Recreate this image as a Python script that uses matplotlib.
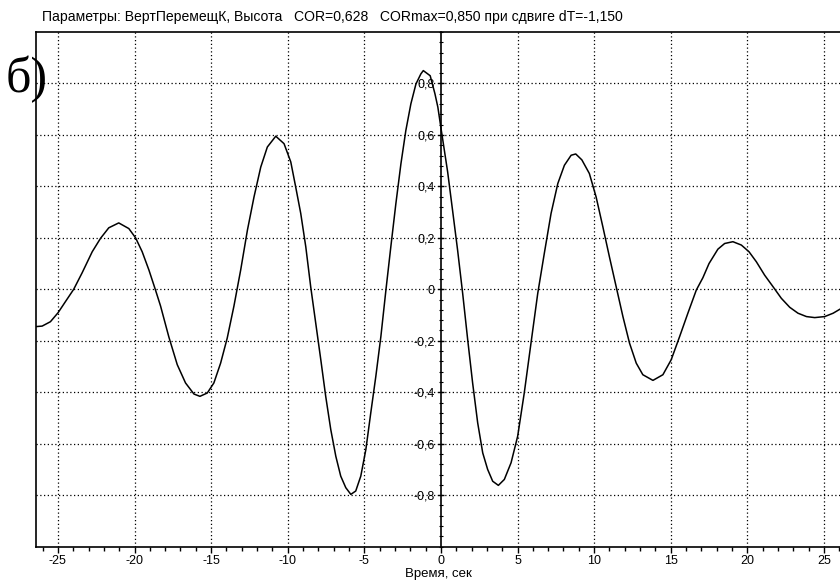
import matplotlib
matplotlib.use("Agg")
import matplotlib.pyplot as plt
from matplotlib.ticker import MultipleLocator, FixedLocator

plt.rcParams['font.family'] = ['Liberation Sans', 'DejaVu Sans']

# Correlation function vs time shift
t = [-26.43, -26.03, -25.49, -24.99, -24.51, -23.97, -23.42, -22.76, -22.22, -21.68,
     -21.03, -20.37, -19.93, -19.50, -19.06, -18.63, -18.30, -17.76, -17.21, -16.67,
     -16.12, -15.73, -15.25, -14.82, -14.38, -13.95, -13.51, -13.07, -12.63, -12.20,
     -11.76, -11.33, -10.78, -10.24, -9.80, -9.48, -9.15, -8.82, -8.50, -8.17,
     -7.84, -7.52, -7.19, -6.86, -6.54, -6.21, -5.88, -5.56, -5.23, -4.90,
     -4.58, -4.25, -3.92, -3.59, -3.27, -2.94, -2.61, -2.29, -1.96, -1.63,
     -1.31, -1.15, -0.70, -0.39, -0.20, 0.00, 0.44, 0.76, 1.09, 1.42,
     1.75, 2.07, 2.40, 2.73, 3.05, 3.38, 3.75, 4.14, 4.58, 5.01,
     5.44, 5.88, 6.32, 6.75, 7.19, 7.63, 8.06, 8.50, 8.80, 9.20,
     9.69, 10.13, 10.57, 11.00, 11.44, 11.88, 12.31, 12.75, 13.18, 13.84,
     14.49, 15.03, 15.58, 16.12, 16.67, 17.10, 17.50, 18.08, 18.52, 19.06,
     19.61, 20.11, 20.59, 21.13, 21.68, 22.22, 22.77, 23.31, 23.86, 24.40,
     25.05, 25.60, 26.14]
cor = [-0.145, -0.143, -0.126, -0.091, -0.048, 0.000, 0.064, 0.146, 0.198, 0.239,
       0.258, 0.236, 0.200, 0.146, 0.075, -0.003, -0.065, -0.185, -0.293, -0.364,
       -0.407, -0.416, -0.403, -0.364, -0.287, -0.190, -0.065, 0.075, 0.230, 0.359,
       0.475, 0.553, 0.595, 0.566, 0.495, 0.398, 0.295, 0.165, 0.010, -0.132,
       -0.274, -0.416, -0.545, -0.649, -0.726, -0.771, -0.797, -0.784, -0.726, -0.623,
       -0.481, -0.339, -0.184, -0.003, 0.165, 0.333, 0.488, 0.617, 0.721, 0.798,
       0.837, 0.850, 0.830, 0.760, 0.708, 0.628, 0.456, 0.307, 0.152, -0.016,
       -0.197, -0.364, -0.519, -0.636, -0.700, -0.746, -0.762, -0.739, -0.674, -0.571,
       -0.403, -0.209, -0.016, 0.140, 0.295, 0.411, 0.482, 0.521, 0.526, 0.503,
       0.450, 0.359, 0.243, 0.126, 0.010, -0.106, -0.209, -0.287, -0.332, -0.354,
       -0.332, -0.274, -0.184, -0.093, -0.003, 0.045, 0.100, 0.156, 0.178, 0.185,
       0.172, 0.146, 0.107, 0.055, 0.010, -0.035, -0.070, -0.093, -0.106, -0.110,
       -0.106, -0.093, -0.074]

x_ticks = [-25, -20, -15, -10, -5, 0, 5, 10, 15, 20, 25]
y_ticks = [-0.8, -0.6, -0.4, -0.2, 0.0, 0.2, 0.4, 0.6, 0.8]
y_labels = ['-0,8', '-0,6', '-0,4', '-0,2', '0', '0,2', '0,4', '0,6', '0,8']
title = "Параметры: ВертПеремещК, Высота   COR=0,628   CORmax=0,850 при сдвиге dT=-1,150"
xlabel = "Время, сек"
panel = "б)"

fig = plt.figure(figsize=(8.4, 5.8), dpi=100)
ax = fig.add_axes([35.7 / 840, 33.4 / 580, 1 - 35.7 / 840, 514.6 / 580])
ax.set_xlim(-26.45, 26.05)
ax.set_ylim(-1.0, 1.0)

dot = (0, (1, 2))
for xv in x_ticks:
    if xv != 0:
        ax.axvline(xv, color='black', lw=0.9, ls=dot, zorder=1)
for yv in y_ticks:
    ax.axhline(yv, color='black', lw=0.9, ls=dot, zorder=1)

ax.plot(t, cor, color='black', lw=1.1, zorder=3, solid_joinstyle='round')

# spines
ax.spines['right'].set_visible(False)
ax.spines['left'].set_position(('data', 0))
ax.plot([0, 0], [0, 1], transform=ax.transAxes, color='black', lw=1.2, clip_on=False)
for s in ['top', 'bottom', 'left']:
    ax.spines[s].set_linewidth(1.2)

ax.xaxis.set_major_locator(FixedLocator(x_ticks))
ax.xaxis.set_minor_locator(MultipleLocator(1))
ax.set_xticklabels([str(v) for v in x_ticks], fontsize=9)
ax.tick_params(axis='x', which='major', direction='out', length=4, width=1, pad=2)
ax.tick_params(axis='x', which='minor', direction='out', length=3, width=1)

ax.yaxis.set_major_locator(FixedLocator(y_ticks))
ax.yaxis.set_minor_locator(MultipleLocator(0.04))
ax.set_yticklabels(y_labels, fontsize=9)
ax.tick_params(axis='y', which='major', direction='inout', length=5, width=1, pad=2)
ax.tick_params(axis='y', which='minor', direction='inout', length=3, width=0.8)

fig.text(42 / 840, 1 - 17 / 580, title, fontsize=10.1, ha='left', va='center')
fig.text(438 / 840, 1 - 574.5 / 580, xlabel, fontsize=9.5, ha='center', va='center')
fig.text(27 / 840, 1 - 79 / 580, panel, fontsize=36, family=['Liberation Serif', 'DejaVu Serif'],
         ha='center', va='center', zorder=10)

fig.savefig('out.png', dpi=100)
